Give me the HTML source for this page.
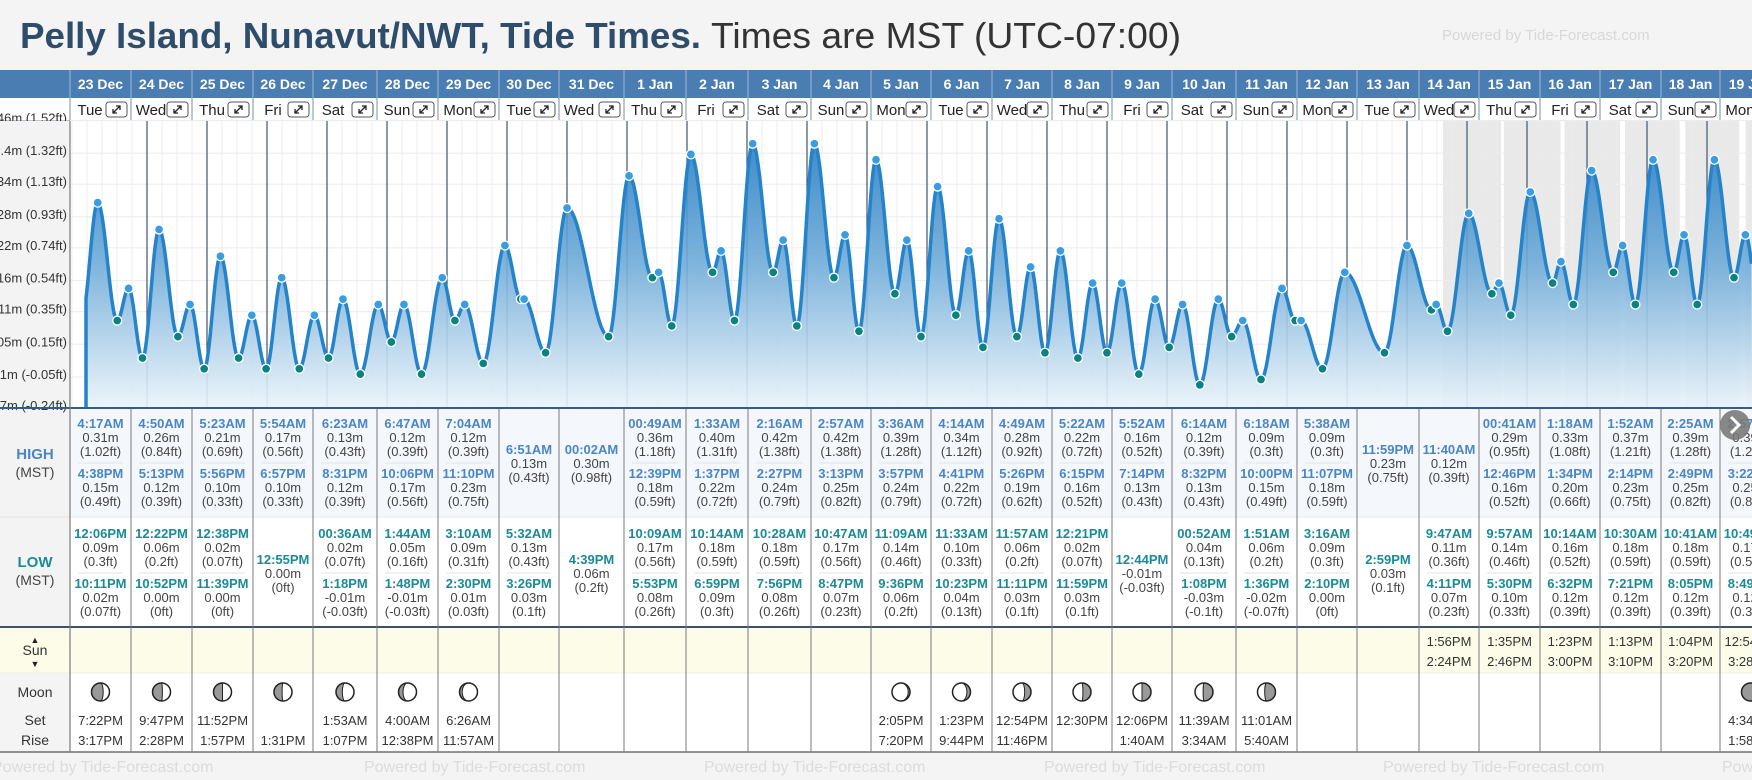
<!DOCTYPE html>
<html><head><meta charset="utf-8">
<style>
html,body{margin:0;padding:0;width:1752px;height:780px;overflow:hidden;background:#f4f4f4;}
svg{display:block;font-family:"Liberation Sans",sans-serif;}
</style></head>
<body>
<svg id="chart" width="1752" height="780" xmlns="http://www.w3.org/2000/svg">
<defs>
<linearGradient id="fillGrad" x1="0" y1="0" x2="0" y2="1">
<stop offset="0" stop-color="#2a80c4"/>
<stop offset="0.45" stop-color="#6fabd8"/>
<stop offset="1" stop-color="#eaf3fa"/>
</linearGradient>
</defs>
<rect x="0" y="0" width="1752" height="780" fill="#f4f4f4"/>
<text x="20" y="48" font-size="36"><tspan font-weight="bold" fill="#2e4d6b" textLength="681" lengthAdjust="spacingAndGlyphs">Pelly Island, Nunavut/NWT, Tide Times.</tspan><tspan fill="#333" dx="10" textLength="470" lengthAdjust="spacingAndGlyphs">Times are MST (UTC-07:00)</tspan></text>
<text x="1442" y="40" font-size="15" fill="#d8d8d8">Powered by Tide-Forecast.com</text>
<g id="layer"></g>
</svg>
<script>
// ---- data ----
const eventDay   = [-1,0,0,0,0,1,1,1,1,2,2,2,2,3,3,3,4,4,4,4,5,5,5,5,6,6,6,6,7,7,7,8,8,9,9,9,9,10,10,10,10,11,11,11,11,12,12,12,12,13,13,13,13,14,14,14,14,15,15,15,15,16,16,16,16,17,17,17,18,18,18,18,19,19,19,19,20,20,20,20,21,21,22,22,22,23,23,23,23,24,24,24,24,25,25,25,25,26,26,26,26,27,27,27,27,28];
const eventTime  = ["10:00PM","4:17AM","12:06PM","4:38PM","10:11PM","4:50AM","12:22PM","5:13PM","10:52PM","5:23AM","12:38PM","5:56PM","11:39PM","5:54AM","12:55PM","6:57PM","00:36AM","6:23AM","1:18PM","8:31PM","1:44AM","6:47AM","1:48PM","10:06PM","3:10AM","7:04AM","2:30PM","11:10PM","5:32AM","6:51AM","3:26PM","00:02AM","4:39PM","00:49AM","10:09AM","12:39PM","5:53PM","1:33AM","10:14AM","1:37PM","6:59PM","2:16AM","10:28AM","2:27PM","7:56PM","2:57AM","10:47AM","3:13PM","8:47PM","3:36AM","11:09AM","3:57PM","9:36PM","4:14AM","11:33AM","4:41PM","10:23PM","4:49AM","11:57AM","5:26PM","11:11PM","5:22AM","12:21PM","6:15PM","11:59PM","5:52AM","12:44PM","7:14PM","00:52AM","6:14AM","1:08PM","8:32PM","1:51AM","6:18AM","1:36PM","10:00PM","3:16AM","5:38AM","2:10PM","11:07PM","2:59PM","11:59PM","9:47AM","11:40AM","4:11PM","00:41AM","9:57AM","12:46PM","5:30PM","1:18AM","10:14AM","1:34PM","6:32PM","1:52AM","10:30AM","2:14PM","7:21PM","2:25AM","10:41AM","2:49PM","8:05PM","2:57AM","10:49AM","3:22PM","8:49PM","3:30AM"];
const eventType  = ["L","H","L","H","L","H","L","H","L","H","L","H","L","H","L","H","L","H","L","H","L","H","L","H","L","H","L","H","L","H","L","H","L","H","L","H","L","H","L","H","L","H","L","H","L","H","L","H","L","H","L","H","L","H","L","H","L","H","L","H","L","H","L","H","L","H","L","H","L","H","L","H","L","H","L","H","L","H","L","H","L","H","L","H","L","H","L","H","L","H","L","H","L","H","L","H","L","H","L","H","L","H","L","H","L","H"];
const eventHeight= [0.10,0.31,0.09,0.15,0.02,0.26,0.06,0.12,0.00,0.21,0.02,0.10,0.00,0.17,0.00,0.10,0.02,0.13,-0.01,0.12,0.05,0.12,-0.01,0.17,0.09,0.12,0.01,0.23,0.13,0.13,0.03,0.30,0.06,0.36,0.17,0.18,0.08,0.40,0.18,0.22,0.09,0.42,0.18,0.24,0.08,0.42,0.17,0.25,0.07,0.39,0.14,0.24,0.06,0.34,0.10,0.22,0.04,0.28,0.06,0.19,0.03,0.22,0.02,0.16,0.03,0.16,-0.01,0.13,0.04,0.12,-0.03,0.13,0.06,0.09,-0.02,0.15,0.09,0.09,0.00,0.18,0.03,0.23,0.11,0.12,0.07,0.29,0.14,0.16,0.10,0.33,0.16,0.20,0.12,0.37,0.18,0.23,0.12,0.39,0.18,0.25,0.12,0.39,0.17,0.25,0.12,0.38];
const eventFt    = ["0.33","1.02","0.3","0.49","0.07","0.84","0.2","0.39","0","0.69","0.07","0.33","0","0.56","0","0.33","0.07","0.43","-0.03","0.39","0.16","0.39","-0.03","0.56","0.31","0.39","0.03","0.75","0.43","0.43","0.1","0.98","0.2","1.18","0.56","0.59","0.26","1.31","0.59","0.72","0.3","1.38","0.59","0.79","0.26","1.38","0.56","0.82","0.23","1.28","0.46","0.79","0.2","1.12","0.33","0.72","0.13","0.92","0.2","0.62","0.1","0.72","0.07","0.52","0.1","0.52","-0.03","0.43","0.13","0.39","-0.1","0.43","0.2","0.3","-0.07","0.49","0.3","0.3","0","0.59","0.1","0.75","0.36","0.39","0.23","0.95","0.46","0.52","0.33","1.08","0.52","0.66","0.39","1.21","0.59","0.75","0.39","1.28","0.59","0.82","0.39","1.28","0.56","0.82","0.39","1.25"];
const dayDates   = ["23 Dec","24 Dec","25 Dec","26 Dec","27 Dec","28 Dec","29 Dec","30 Dec","31 Dec","1 Jan","2 Jan","3 Jan","4 Jan","5 Jan","6 Jan","7 Jan","8 Jan","9 Jan","10 Jan","11 Jan","12 Jan","13 Jan","14 Jan","15 Jan","16 Jan","17 Jan","18 Jan","19 Jan"];
const dayNames   = ["Tue","Wed","Thu","Fri","Sat","Sun","Mon","Tue","Wed","Thu","Fri","Sat","Sun","Mon","Tue","Wed","Thu","Fri","Sat","Sun","Mon","Tue","Wed","Thu","Fri","Sat","Sun","Mon"];
const sunRise    = ["","","","","","","","","","","","","","","","","","","","","","","1:56PM","1:35PM","1:23PM","1:13PM","1:04PM","12:54PM"];
const sunSet     = ["","","","","","","","","","","","","","","","","","","","","","","2:24PM","2:46PM","3:00PM","3:10PM","3:20PM","3:28PM"];
const moonSet    = ["7:22PM","9:47PM","11:52PM","","1:53AM","4:00AM","6:26AM","","","","","","","2:05PM","1:23PM","12:54PM","12:30PM","12:06PM","11:39AM","11:01AM","","","","","","","","4:34AM"];
const moonRise   = ["3:17PM","2:28PM","1:57PM","1:31PM","1:07PM","12:38PM","11:57AM","","","","","","","7:20PM","9:44PM","11:46PM","","1:40AM","3:34AM","5:40AM","","","","","","","","1:58PM"];
const moonShade  = [0.65,0.55,0.5,0.45,0.35,0.25,0.15,null,null,null,null,null,null,0.1,0.2,0.35,0.45,0.5,0.55,0.6,null,null,null,null,null,null,null,0.9];
const moonSide   = ["L","L","L","L","L","L","L","","","","","","","R","R","R","R","R","R","R","","","","","","","","L"];
const tickFt     = [1.52,1.32,1.13,0.93,0.74,0.54,0.35,0.15,-0.05,-0.24];
const tickM      = ["0.46","0.4","0.34","0.28","0.22","0.16","0.11","0.05","-0.01","-0.07"];

// ---- layout ----
const colX=[70,131,192,253,313,377,438,499,559,624,686,748,811,871,931,992,1052,1112,1172,1236,1297,1357,1419,1479,1540,1600,1661,1720,1781];
const X0=87, PXH=2.5, CT=121, CB=407;
const xScale=h=>X0+h*PXH;
const yScale=m=>368.8-536*m;
const NS="http://www.w3.org/2000/svg";
const layer=document.getElementById('layer');
function mk(tag,attrs,parent,text){const e=document.createElementNS(NS,tag);for(const k in attrs)e.setAttribute(k,attrs[k]);if(text!==undefined)e.textContent=text;(parent||layer).appendChild(e);return e;}
function parseT(s){const pm=s.endsWith("PM");let [h,m]=s.slice(0,-2).split(":").map(Number);if(h===12)h=0;if(pm)h+=12;return h+m/60;}
const hours=eventTime.map((t,i)=>eventDay[i]*24+parseT(t));

// header
let g=mk('g',{});


mk('rect',{x:0,y:70,width:1752,height:28,fill:'#4a7db2'},g);
mk('rect',{x:0,y:98,width:1752,height:23,fill:'#fff'},g);
mk('line',{x1:0,y1:121,x2:1752,y2:121,stroke:'#7a8a9a','stroke-width':1},g);
for(let d=0;d<dayDates.length;d++){
  const x0=colX[d],x1=colX[d+1],cx=(x0+x1)/2;
  mk('line',{x1:x0,y1:70,x2:x0,y2:98,stroke:'#9bbad8','stroke-width':1},g);
  mk('line',{x1:x0,y1:98,x2:x0,y2:121,stroke:'#7d8d9d','stroke-width':1},g);
  const t=mk('text',{x:cx,y:89,'text-anchor':'middle','font-size':14,'font-weight':'bold',fill:'#fff'},g,dayDates[d]);
  
  
  const w=mk('text',{x:x0+20,y:115,'text-anchor':'middle','font-size':15,fill:'#222'},g,dayNames[d]);
  
  
  const bx=x1-25;
  const b=mk('g',{},g);
  
  
  mk('rect',{x:bx,y:102,width:21,height:15,rx:3,fill:'#fff',stroke:'#555','stroke-width':1},b);
  mk('path',{d:`M${bx+7} ${113} L${bx+14} ${106} M${bx+10} ${106} L${bx+14} ${106} L${bx+14} ${110} M${bx+7} ${109} L${bx+7} ${113} L${bx+11} ${113}`,stroke:'#222','stroke-width':1.3,fill:'none'},b);
}

// chart background
mk('rect',{x:70,y:CT,width:1682,height:CB-CT,fill:'#fff'});
mk('rect',{x:0,y:CT,width:70,height:752-CT,fill:'#f3f3f3'});
// night bands
for(let d=22;d<sunRise.length;d++){
  const setH=d*24+parseT(sunSet[d]);
  const nextRise=(d+1<sunRise.length&&sunRise[d+1])?(d+1)*24+parseT(sunRise[d+1]):(d+1)*24+12.8;
  const r=mk('rect',{x:xScale(setH),y:CT,width:xScale(nextRise)-xScale(setH),height:CB-CT,fill:'#e9e9e9'});
  
  
}
// grid
for(let x=X0-15;x<1752;x+=15){ if(x<70)continue; mk('line',{x1:x,y1:CT,x2:x,y2:CB,stroke:'#ececec','stroke-width':1}); }
tickFt.forEach((ft,i)=>{
  const y=yScale(ft/3.28084);
  mk('line',{x1:70,y1:y,x2:1752,y2:y,stroke:'#ececec','stroke-width':1});
  const t=mk('text',{x:67,y:y+2,'text-anchor':'end','font-size':13,fill:'#333'},undefined,`${tickM[i]}m (${ft.toFixed(2).replace(/0$/,'')}ft)`);
  
  
});
mk('rect',{x:0,y:CT,width:70,height:4,fill:'#f3f3f3'});
// day lines
for(let d=1;d<=28;d++){ const x=xScale(d*24); if(x>1752)break;
  const l=mk('line',{x1:x,y1:CT,x2:x,y2:CB,stroke:'#3f5570','stroke-width':1.2});
  
  
}
// curve
function valAt(h){
  for(let i=0;i<hours.length-1;i++){
    if(h>=hours[i]&&h<=hours[i+1]){const f=(h-hours[i])/(hours[i+1]-hours[i]);return eventHeight[i]+(eventHeight[i+1]-eventHeight[i])*(1-Math.cos(Math.PI*f))/2;}
  }
  return eventHeight[eventHeight.length-1];
}
const hStart=(86-X0)/PXH, hEnd=(1752-X0)/PXH;
let pts=[];
for(let h=hStart;h<=hEnd;h+=0.2)pts.push([xScale(h),yScale(valAt(h))]);
const lineD='M'+pts.map(p=>p[0].toFixed(1)+' '+p[1].toFixed(1)).join(' L');
const area=mk('path',{d:`M86 ${CB} L`+lineD.slice(1)+` L1752 ${CB} Z`,fill:'url(#fillGrad)','fill-opacity':0.9});


const ln=mk('path',{d:`M86 ${CB} L`+lineD.slice(1),fill:'none',stroke:'#2583c9','stroke-width':3.5,'stroke-linejoin':'round'});


hours.forEach((h,i)=>{
  const x=xScale(h); if(x<86||x>1752)return;
  const c=mk('circle',{cx:x,cy:yScale(eventHeight[i]),r:4.5,fill:eventType[i]==='H'?'#3a9de0':'#0a8282',stroke:'#fff','stroke-width':1.3});
  
  
});

// table
mk('rect',{x:70,y:CB,width:1682,height:110,fill:'#f4f8fc'});
mk('rect',{x:70,y:517,width:1682,height:109,fill:'#fff'});
mk('line',{x1:0,y1:517,x2:1752,y2:517,stroke:'#e6e6e6','stroke-width':1});
mk('rect',{x:0,y:626,width:1752,height:47,fill:'#fcfce9'});
mk('rect',{x:70,y:673,width:1682,height:79,fill:'#fff'});
mk('rect',{x:0,y:673,width:70,height:79,fill:'#f4f4f4'});
mk('line',{x1:0,y1:673,x2:1752,y2:673,stroke:'#eeeeee','stroke-width':1});
mk('rect',{x:0,y:752,width:1752,height:28,fill:'#f4f4f4'});
mk('line',{x1:0,y1:CB+1,x2:1752,y2:CB+1,stroke:'#2f5f8f','stroke-width':2});
mk('line',{x1:0,y1:627,x2:1752,y2:627,stroke:'#3c5268','stroke-width':2});
mk('line',{x1:0,y1:752,x2:1752,y2:752,stroke:'#555','stroke-width':1.2});
mk('line',{x1:70,y1:CT,x2:70,y2:752,stroke:'#777','stroke-width':1.2});

function entry(parent,x,yb,ev,cls){
  const col=cls==='H'?'#4a86c5':'#1a8b96';
  const t=mk('text',{x,y:yb,'text-anchor':'middle','font-size':13,'font-weight':'bold',fill:col},parent,eventTime[ev]);
  
  
  mk('text',{x,y:yb+14,'text-anchor':'middle','font-size':13,fill:'#444'},parent,eventHeight[ev].toFixed(2)+'m');
  mk('text',{x,y:yb+28,'text-anchor':'middle','font-size':13,fill:'#444'},parent,'('+eventFt[ev]+'ft)');
}
for(let d=0;d<dayDates.length;d++){
  const x0=colX[d],x1=colX[d+1],cx=(x0+x1)/2;
  const cg=mk('g',{});
  
  
  mk('line',{x1:x0,y1:CB+2,x2:x0,y2:752,stroke:'#7a7a7a','stroke-width':1},cg);
  ['H','L'].forEach(tp=>{
    const evs=[];hours.forEach((h,i)=>{if(eventDay[i]===d&&eventType[i]===tp)evs.push(i);});
    const top=tp==='H'?407:517;
    if(evs.length===1){entry(cg,cx,top+47,evs[0],tp);}
    else if(evs.length>=2){
      entry(cg,cx,top+21,evs[0],tp);
      mk('line',{x1:x0+8,y1:top+56,x2:x1-8,y2:top+56,stroke:'#e3e3e3','stroke-width':1},cg);
      entry(cg,cx,top+71,evs[1],tp);
    }
  });
  if(sunRise[d]){
    mk('text',{x:cx,y:646,'text-anchor':'middle','font-size':13,fill:'#333'},cg,sunRise[d]);
    mk('text',{x:cx,y:666,'text-anchor':'middle','font-size':13,fill:'#333'},cg,sunSet[d]);
  }
  if(moonShade[d]!==null){
    const r=9,mx=cx,my=692,f=moonShade[d];
    const mg=mk('g',{},cg);
    
    
    mk('circle',{cx:mx,cy:my,r,fill:'#fff'},mg);
    const rx=Math.abs(r*(1-2*f));
    let dpath;
    if(moonSide[d]==='R') dpath=`M${mx} ${my-r} A${r} ${r} 0 0 1 ${mx} ${my+r} A${rx} ${r} 0 0 ${f<0.5?0:1} ${mx} ${my-r} Z`;
    else dpath=`M${mx} ${my-r} A${r} ${r} 0 0 0 ${mx} ${my+r} A${rx} ${r} 0 0 ${f<0.5?1:0} ${mx} ${my-r} Z`;
    mk('path',{d:dpath,fill:'#999',stroke:'#222','stroke-width':1},mg);
    mk('circle',{cx:mx,cy:my,r,fill:'none',stroke:'#222','stroke-width':1.5},mg);
  }
  if(moonSet[d])mk('text',{x:cx,y:725,'text-anchor':'middle','font-size':13,fill:'#333'},cg,moonSet[d]);
  if(moonRise[d])mk('text',{x:cx,y:745,'text-anchor':'middle','font-size':13,fill:'#333'},cg,moonRise[d]);
}
// left labels
[['HIGH',35,459,'bold',15,'#4a86c5','high-row-label'],['(MST)',35,477,'normal',14,'#444','high-tz-label'],
 ['LOW',35,567,'bold',15,'#1a8b96','low-row-label'],['(MST)',35,585,'normal',14,'#444','low-tz-label'],
 ['▲',35,643,'normal',9,'#222','sun-up-arrow'],['Sun',35,655,'normal',14,'#333','sun-row-label'],['▼',35,667,'normal',9,'#222','sun-down-arrow'],
 ['Moon',35,697,'normal',14,'#333','moon-row-label'],['Set',35,725,'normal',14,'#333','moonset-label'],['Rise',35,745,'normal',14,'#333','moonrise-label']
].forEach(a=>{const t=mk('text',{x:a[1],y:a[2],'text-anchor':'middle','font-weight':a[3],'font-size':a[4],fill:a[5]},undefined,a[0]);
  
  });
// footer watermarks
[-8,364,704,1044,1383,1722].forEach(x=>{const t=mk('text',{x,y:772,'font-size':16,fill:'#dcdcdc'},undefined,'Powered by Tide-Forecast.com');
  
  });
// next button
const nb=mk('g',{});


mk('circle',{cx:1735,cy:425,r:15,fill:'#7a7a7a','fill-opacity':0.9},nb);
mk('path',{d:'M1731 417 L1739 425 L1731 433',stroke:'#fff','stroke-width':3,fill:'none'},nb);
</script>
</body></html>
